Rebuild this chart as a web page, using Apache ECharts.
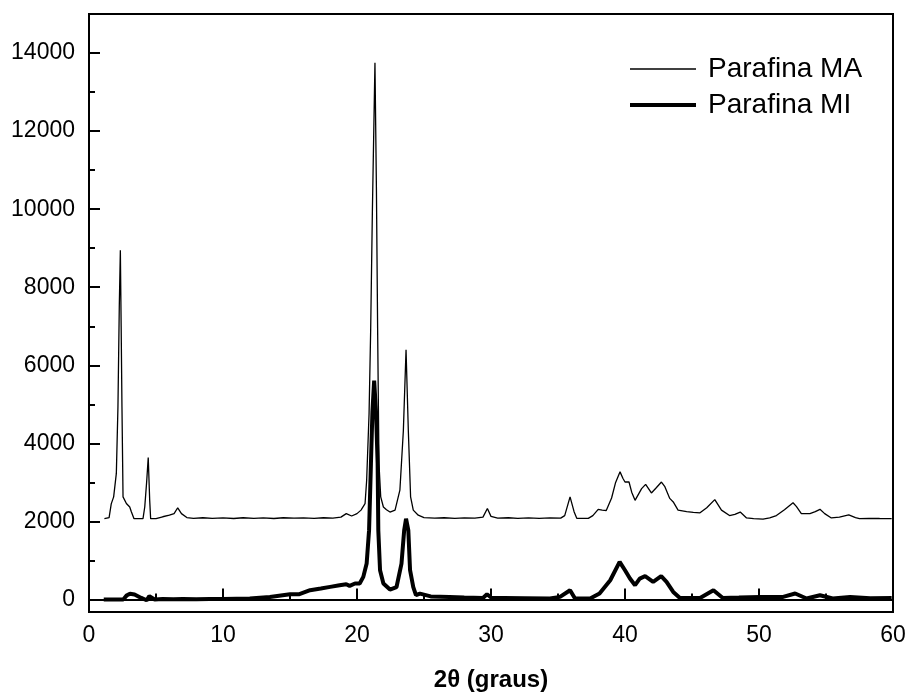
<!DOCTYPE html>
<html>
<head>
<meta charset="utf-8">
<script src="https://cdn.jsdelivr.net/npm/echarts@6/dist/echarts.min.js"></script>
<style>html,body{margin:0;padding:0;background:#fff}#c{width:907px;height:695px}</style>
</head>
<body>
<div id="c"></div>
<script>
// X-ray diffraction data (2θ in degrees, intensity)
const maX = [1.15,1.5,1.66,1.84,2.04,2.16,2.26,2.34,2.40,2.46,2.54,2.79,3.04,3.16,3.36,3.7,4.03,4.16,4.3,4.42,4.53,4.6,5.0,5.5,6.0,6.35,6.62,6.9,7.3,7.8,8.5,9.2,10.0,10.8,11.5,12.3,13.0,13.8,14.5,15.3,16.0,16.8,17.5,18.2,18.8,19.2,19.6,20.0,20.3,20.6,20.72,20.9,21.02,21.15,21.34,21.45,21.54,21.64,21.77,21.97,22.2,22.46,22.84,23.2,23.46,23.66,23.83,24.0,24.2,24.57,25.0,25.8,26.5,27.3,28.0,28.8,29.4,29.73,30.0,30.5,31.3,32.0,32.8,33.6,34.4,35.2,35.5,35.9,36.2,36.4,37.26,37.6,38.0,38.3,38.6,39.0,39.3,39.63,39.85,40.0,40.3,40.5,40.75,41.24,41.54,41.97,42.3,42.72,42.96,43.34,43.6,43.96,44.6,45.1,45.6,46.1,46.7,47.2,47.8,48.2,48.6,49.07,49.6,50.3,50.8,51.3,51.9,52.54,52.8,53.16,53.8,54.2,54.55,54.9,55.4,56.0,56.7,57.2,57.5,58.2,59.0,59.9];
const maY = [2070,2100,2450,2630,3230,4930,7500,8950,7000,4930,2630,2460,2370,2250,2070,2070,2070,2370,3000,3640,2540,2070,2070,2120,2160,2200,2350,2200,2100,2080,2095,2080,2090,2075,2095,2080,2090,2075,2095,2085,2090,2080,2095,2085,2110,2200,2140,2200,2290,2455,3050,4760,6900,10000,13750,10500,6900,3480,2630,2370,2300,2240,2290,2800,4330,6400,4330,2630,2290,2160,2100,2085,2095,2080,2090,2085,2110,2330,2130,2085,2095,2080,2090,2080,2090,2085,2150,2630,2250,2080,2080,2150,2310,2290,2280,2600,3000,3270,3100,3010,3010,2750,2540,2840,2950,2730,2850,3010,2900,2590,2500,2290,2250,2230,2220,2350,2560,2290,2150,2180,2240,2090,2070,2060,2090,2150,2300,2480,2380,2200,2200,2250,2310,2200,2090,2110,2170,2100,2070,2080,2075,2073];
const miX = [1.1,1.8,2.56,2.8,3.06,3.4,3.9,4.3,4.5,4.9,5.5,6.3,7.0,8.0,9.0,10.0,11.0,12.0,13.5,15.0,15.7,16.5,17.3,18.0,18.7,19.2,19.45,19.85,20.2,20.47,20.72,20.9,21.04,21.15,21.28,21.42,21.54,21.59,21.72,21.97,22.46,22.95,23.32,23.52,23.66,23.83,23.96,24.2,24.4,24.7,25.5,26.9,28.0,29.4,29.7,30.05,31.0,32.5,34.4,35.15,35.9,36.27,37.4,38.1,38.9,39.6,40.0,40.37,40.75,41.1,41.5,42.1,42.7,43.1,43.6,44.1,45.6,46.6,47.3,48.5,50.1,51.8,52.7,53.55,54.55,55.5,56.8,58.3,59.9];
const miY = [0,0,0,100,150,130,40,-20,85,0,10,5,15,5,15,10,20,25,67,135,135,238,280,323,366,392,350,410,410,580,920,1770,3480,4800,5610,4800,3480,1770,750,410,256,320,920,1770,2070,1770,750,320,110,150,80,67,50,40,135,40,40,35,25,67,238,25,25,153,494,963,750,537,366,537,597,452,597,452,195,40,40,238,40,50,67,67,153,25,110,25,67,35,40];
const yMajor = [0,2000,4000,6000,8000,10000,12000,14000];
const yMinor = [1000,3000,5000,7000,9000,11000,13000];
const seriesNames = ['Parafina MA','Parafina MI'];

const zip = (xs, ys) => xs.map((x, i) => [x, ys[i]]);
const font = 'Arial, "Liberation Sans", sans-serif';
const chart = echarts.init(document.getElementById('c'), null, {renderer: 'canvas'});
const yCommon = {
  type: 'value', min: -320, max: 15000, position: 'left',
  splitLine: {show: false}
};
chart.setOption({
  animation: false,
  backgroundColor: '#fff',
  grid: {left: 89, top: 14, right: 14, bottom: 83, show: true, borderColor: '#000', borderWidth: 2,
         containLabel: false, outerBoundsMode: 'none'},
  legend: {
    orient: 'vertical', left: 623, top: 50, itemGap: 8,
    itemWidth: 66, itemHeight: 14,
    textStyle: {fontFamily: font, fontSize: 28, color: '#000', padding: [0,0,0,7]},
    data: [
      {name: seriesNames[0], lineStyle: {width: 1.3, color: '#000'}, itemStyle: {opacity: 0}},
      {name: seriesNames[1], lineStyle: {width: 4, color: '#000'}, itemStyle: {opacity: 0}}
    ]
  },
  xAxis: {
    type: 'value', min: 0, max: 60, interval: 10,
    name: '2θ (graus)', nameLocation: 'middle', nameGap: 56,
    nameTextStyle: {fontFamily: font, fontSize: 24, fontWeight: 'bold', color: '#000'},
    axisLine: {lineStyle: {color: '#000', width: 2}},
    axisTick: {inside: true, length: 11, lineStyle: {color: '#000', width: 2}},
    minorTick: {show: true, splitNumber: 2, length: 6, lineStyle: {color: '#000', width: 2}},
    axisLabel: {fontFamily: font, fontSize: 23, color: '#000', margin: 12},
    splitLine: {show: false}
  },
  yAxis: [
    Object.assign({}, yCommon, {
      axisLine: {show: true, lineStyle: {color: '#000', width: 2}},
      axisTick: {show: true, inside: true, length: 11, customValues: yMajor, lineStyle: {color: '#000', width: 2}},
      axisLabel: {fontFamily: font, fontSize: 23, color: '#000', margin: 14, customValues: yMajor,
                  formatter: v => String(v)}
    }),
    Object.assign({}, yCommon, {
      axisLine: {show: false},
      axisTick: {show: true, inside: true, length: 6, customValues: yMinor, lineStyle: {color: '#000', width: 2}},
      axisLabel: {show: false}
    })
  ],
  series: [
    {name: seriesNames[0], type: 'line', data: zip(maX, maY), showSymbol: false, symbol: 'none',
     lineStyle: {color: '#000', width: 1.3}, itemStyle: {color: '#000'}},
    {name: seriesNames[1], type: 'line', data: zip(miX, miY), showSymbol: false, symbol: 'none',
     lineStyle: {color: '#000', width: 4}, itemStyle: {color: '#000'}}
  ]
});
</script>
</body>
</html>
